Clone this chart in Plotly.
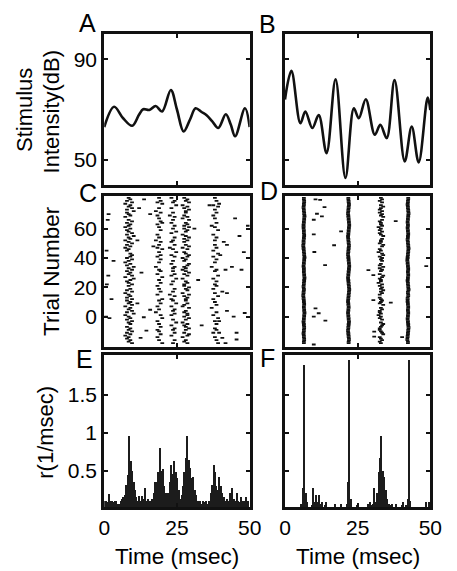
import plotly.graph_objects as go

# ---------------- data ----------------
# stimulus traces (time in ms, intensity in dB)
stim_a_t = [0, 3.4, 6.5, 9.6, 12, 13.4, 15.5, 17.7, 19.9, 22.9, 25, 27.3, 29.5, 31.4,
            33.5, 35.1, 37, 39.2, 41.8, 43.5, 45.0, 48.4, 50]
stim_a_db = [63, 71.1, 66.5, 63.5, 68, 70.1, 69.8, 71.4, 69.2, 77.8, 70, 61.2, 66, 70.5,
             69, 67.8, 65.5, 62.6, 68.1, 64, 59.3, 70.5, 63]
stim_b_t = [0, 2.2, 5.3, 7.0, 9.4, 11.6, 14.3, 17.4, 20.8, 23.7, 25.4, 27.8, 30.9, 32.8,
            35.0, 37.7, 41.2, 43.6, 46.0, 49.1, 50]
stim_b_db = [74, 85.4, 64.5, 69.2, 62.6, 67.8, 52.6, 82.0, 42.7, 70.5, 66.5, 74.1, 59.9, 63.9,
             58.6, 81.7, 49.3, 63.2, 48.9, 74.8, 69.8]

# raster: trials numbered from top (81) downward, 100 trials
TRIAL_TOP = 81
N_TRIALS = 100
# each band: (code string, base time ms, step ms); char = offset index, '.' = no spike
raster_c_bands = [
    ("5647365748" "4563.57465" "3645748563" "5746354.67" "6475364857"
     "4657386457" "5.64735647" "4657365748" "3564756.46" "5746354657", 5.5, 0.58),
    ("5.647..5.3" "6.4.5.674." "5.6..4.5.3" "6.5.47.5.6" "4.6.5..3.5"
     "6.4.7.5.6." "4.5.6.4..7" "5.6.4.5.3." "6.7.4.5.6." "45.6.4.5.7", 16.1, 0.55),
    ("4.65.7.4.." "5.36.5.4.6" ".5.74..6.5" "4.6.35.7.4" "6..5.4.65."
     "5.64.7.5.4" "..6.5.36.4" "5.7.4.65.6" "4..5.7.4.6" "5.6.4..6.5", 20.9, 0.55),
    ("4657.36475" "5.4637.564" "7465.35746" "4.5736.457" "6354.76453"
     "5746.3.564" "4756.37465" "5.6437.546" "6475.36457" "5.4763.546", 25.3, 0.55),
    ("5.6..47.5." "6.4.5..6.3" "5.7..4.6.5" "..5.6.4.7." "4.6.5..3.6"
     "5..7.4.6.5" "6.4..5.7.4" ".5.6.3..6." "4.7.5.6..5" "6.4..5.6.7", 35.3, 0.55),
]
raster_c_extra_t = [1.5, 1.2, 0.8, 0.6, 1.4, 0.9, 1.8, 12.0, 13.7, 11.4, 15.8, 16.9, 11.4,
                    13.6, 12.5, 14.5, 15.8, 36.2, 39.5, 45.0, 41.1, 42.2, 39.9, 43.9, 41.7,
                    47.2, 49.4, 40.6, 42.2, 42.2, 48.3, 44.5, 39.5, 39.5, 45.5, 40.6, 41.7,
                    45.5, 32.3, 46.5, 48.0, 3.2, 12.8, 31.0, 33.5, 2.5]
raster_c_extra_y = [70, 66, 45, 0, 28, 22, -1, 74, 80, 52, 70, 48, 9, -0.4, -14.5, -9.5,
                    4.7, 76, 77, 67, 51, 49, 42, 34, 32, 32, 62, 17, 16, 4, 2.5, 0, -3,
                    -11, -11, -14.5, -18, -15.6, 25, 55, 44, 38, 30, 60, -6, 12]

raster_d_bands = [
    ("5566554455" "6677665544" "4455566554" "4433445566" "7766554455"
     "5566776655" "4455443344" "5566556677" "6655445566" "5544556655", 6.0, 0.1),
    ("4455665544" "3344556677" "6655443344" "5566554433" "4455667766"
     "5544334455" "6677665544" "3344554433" "4455665544" "3344556655", 21.4, 0.1),
    ("5646.57546" "4657.64556" "3546457.65" "5476.45367" "4656.54746"
     "5.47645536" "4657564.45" "6547.56445" "3546.57654" "4567.45645", 31.0, 0.4),
    ("6655445566" "7766554455" "4455665544" "5566776655" "4433445566"
     "5566554455" "6677556644" "4455665566" "5544556677" "6655443355", 41.8, 0.1),
]
raster_d_extra_t = [10.5, 12.1, 13.6, 11.0, 9.9, 12.7, 19.3, 9.9, 16.9, 10.1, 13.8, 38.1,
                    48.6, 28.7, 30.4, 36.4, 30.4, 10.5, 11.6, 9.9, 13.9, 40.3, 9.9, 30.7, 30.7]
raster_d_extra_y = [80, 79.7, 74.7, 70.2, 66.1, 68.4, 58.2, 56.1, 48.7, 44.1, 35.1, 65.2,
                    34.4, 31.7, 28.3, 9.5, 11.3, 5.7, 2.3, 0, -2.7, -14, -19, -10.2, -13.6]

# PSTH (rate, 1/msec) in 0.5 ms bins starting at 0
psth_bin_ms = 0.5
psth_e = [0.10, 0.10, 0.08, 0.19, 0.10, 0.10, 0.08, 0.10, 0.10, 0.06,
          0.06, 0.10, 0.12, 0.15, 0.18, 0.31, 0.44, 0.96, 0.62, 0.50,
          0.35, 0.24, 0.15, 0.10, 0.17, 0.10, 0.17, 0.12, 0.27, 0.10,
          0.12, 0.10, 0.08, 0.12, 0.20, 0.35, 0.35, 0.48, 0.79, 0.50,
          0.52, 0.30, 0.20, 0.10, 0.20, 0.35, 0.57, 0.45, 0.63, 0.48,
          0.40, 0.25, 0.12, 0.18, 0.30, 0.48, 0.66, 0.96, 0.64, 0.53,
          0.40, 0.42, 0.25, 0.18, 0.10, 0.08, 0.10, 0.06, 0.10, 0.08,
          0.10, 0.06, 0.10, 0.20, 0.31, 0.57, 0.48, 0.30, 0.25, 0.42,
          0.30, 0.20, 0.15, 0.10, 0.12, 0.10, 0.20, 0.10, 0.27, 0.12,
          0.10, 0.20, 0.10, 0.08, 0.15, 0.10, 0.10, 0.15, 0.10, 0.10]
psth_f = [0, 0, 0, 0, 0, 0, 0, 0, 0, 0,
          0, 0.06, 0.27, 1.89, 0.20, 0.08, 0, 0, 0.04, 0.27,
          0.08, 0.18, 0.08, 0.18, 0.06, 0.08, 0, 0.04, 0.08, 0,
          0, 0, 0, 0, 0.06, 0, 0, 0, 0.06, 0,
          0, 0, 0.06, 0.35, 1.96, 0.12, 0, 0, 0, 0.04,
          0, 0, 0, 0, 0, 0, 0, 0.06, 0.08, 0.04,
          0.06, 0.27, 0.08, 0.20, 0.48, 0.66, 0.95, 0.50, 0.42, 0.24,
          0.12, 0.06, 0.04, 0.06, 0, 0, 0.06, 0, 0, 0,
          0.04, 0.08, 0, 0.04, 0.12, 1.96, 0.10, 0, 0, 0,
          0, 0, 0, 0, 0, 0, 0, 0.08, 0, 0.08]

time_ticks = [0, 25, 50]
stim_ticks = [50, 90]
trial_ticks = [0, 20, 40, 60]
rate_ticks = [0.5, 1, 1.5]
rate_tick_text = ["0.5", "1", "1.5"]

# ---------------- helpers ----------------
PAGE_W, PAGE_H = 457, 571
OFF = 8  # default page body margin
W, H = PAGE_W - OFF, PAGE_H - OFF
FONT = "Liberation Sans, Arial, Helvetica, sans-serif"
INK = "#111111"


def raster_points(bands, extra_t, extra_y):
    ts, ys = [], []
    for code, t0, dt in bands:
        for i, ch in enumerate(code[:N_TRIALS]):
            if ch != ".":
                ts.append(t0 + dt * int(ch))
                ys.append(TRIAL_TOP - i)
    ts += list(extra_t)
    ys += list(extra_y)
    return ts, ys


def px(x):
    return (x - OFF) / W


def py(y):
    return 1 - (y - OFF) / H


fig = go.Figure()

# A, B stimulus
fig.add_trace(go.Scatter(x=stim_a_t, y=stim_a_db, mode="lines",
                         line=dict(color=INK, width=2.6, shape="spline", smoothing=1.0),
                         xaxis="x", yaxis="y", showlegend=False))
fig.add_trace(go.Scatter(x=stim_b_t, y=stim_b_db, mode="lines",
                         line=dict(color=INK, width=2.6, shape="spline", smoothing=1.0),
                         xaxis="x2", yaxis="y2", showlegend=False))

# C, D rasters
for bands, et, ey, xa, ya in [(raster_c_bands, raster_c_extra_t, raster_c_extra_y, "x3", "y3"),
                              (raster_d_bands, raster_d_extra_t, raster_d_extra_y, "x4", "y4")]:
    ts, ys = raster_points(bands, et, ey)
    fig.add_trace(go.Scatter(x=ts, y=ys, mode="markers",
                             marker=dict(symbol="line-ew", size=2.7,
                                         line=dict(color=INK, width=1.8)),
                             xaxis=xa, yaxis=ya, showlegend=False))

# E, F PSTH
bins = [i * psth_bin_ms for i in range(len(psth_e))]
for vals, xa, ya in [(psth_e, "x5", "y5"), (psth_f, "x6", "y6")]:
    fig.add_trace(go.Bar(x=bins, y=vals, width=psth_bin_ms, offset=0,
                         marker=dict(color="#1c1c1c", line=dict(width=0)),
                         xaxis=xa, yaxis=ya, showlegend=False))

col_dom = [[px(102), px(253.5)], [px(290.3), px(441.7)]]
row_dom = [[py(184.7), py(34.3)], [py(346.7), py(195.7)], [py(507), py(355)]]

ax_common = dict(showline=True, linewidth=3, linecolor=INK, mirror="ticks",
                 ticks="inside", ticklen=4, tickwidth=1.5, tickcolor=INK,
                 showgrid=False, zeroline=False, fixedrange=True,
                 tickfont=dict(family=FONT, size=21, color="black"))

layout = dict(width=W, height=H, margin=dict(l=0, r=0, t=0, b=0),
              paper_bgcolor="white", plot_bgcolor="white", bargap=0,
              showlegend=False)

yranges = [[40, 100], [-20.5, 82.5], [0.02, 2.02]]
yticks = [(stim_ticks, [str(v) for v in stim_ticks]),
          (trial_ticks, [str(v) for v in trial_ticks]),
          (rate_ticks, rate_tick_text)]

for r in range(3):
    for c in range(2):
        k = r * 2 + c + 1
        xname = "xaxis" if k == 1 else f"xaxis{k}"
        yname = "yaxis" if k == 1 else f"yaxis{k}"
        xid = "x" if k == 1 else f"x{k}"
        yid = "y" if k == 1 else f"y{k}"
        layout[xname] = dict(ax_common, domain=col_dom[c], anchor=yid, range=[0, 50],
                             tickvals=time_ticks, ticktext=[str(v) for v in time_ticks],
                             showticklabels=(r == 2))
        layout[yname] = dict(ax_common, domain=row_dom[r], anchor=xid, range=yranges[r],
                             tickvals=yticks[r][0], ticktext=yticks[r][1],
                             showticklabels=(c == 0))

fig.update_layout(**layout)

ann = []
def add_text(text, x, y, size, angle=0):
    ann.append(dict(text=text, x=px(x), y=py(y), xref="paper", yref="paper",
                    showarrow=False, xanchor="center", yanchor="middle",
                    textangle=angle, font=dict(family=FONT, size=size, color="black")))

add_text("Stimulus", 19.5, 110, 22, -90)
add_text("Intensity(dB)", 47, 111, 22, -90)
add_text("Trial Number", 46.5, 271, 22.5, -90)
add_text("r(1/msec)", 40, 432, 22, -90)
add_text("Time (msec)", 178, 556, 22.5)
add_text("Time (msec)", 366, 556, 22.5)
for lab, x, y in [("A", 85, 22.5), ("B", 272.5, 24), ("C", 85, 193),
                  ("D", 274, 191), ("E", 81, 359), ("F", 272, 358)]:
    add_text(lab, x, y, 25)

fig.update_layout(annotations=ann)
fig.write_html("out.html")
